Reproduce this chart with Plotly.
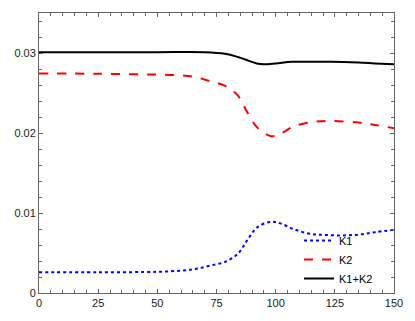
import plotly.graph_objects as go

x_k1 = [0, 25, 50, 60, 66, 72, 78.6, 84, 88, 92.2, 98, 102, 107.5, 114.5, 121, 128, 135, 142, 150]
k1 = [0.0026, 0.0026, 0.00265, 0.0028, 0.0030, 0.0034, 0.0039, 0.0049, 0.0066, 0.0082, 0.0089, 0.0087, 0.0080, 0.0074, 0.00725, 0.0072, 0.0073, 0.0076, 0.0079]

x_k2 = [0, 25, 50, 60, 66, 72, 78.6, 84, 88, 92.2, 98, 102, 107.5, 116, 124, 135, 142, 150]
k2 = [0.02745, 0.0274, 0.0273, 0.0272, 0.0270, 0.0265, 0.0259, 0.0247, 0.0226, 0.0207, 0.0196, 0.0199, 0.0208, 0.0214, 0.0215, 0.0213, 0.0210, 0.0206]

x_sum = [0, 25, 50, 70, 78.6, 84, 88, 92, 95, 100, 107, 115, 124, 135, 142, 150]
k_sum = [0.0301, 0.0301, 0.0301, 0.0301, 0.0299, 0.0295, 0.0291, 0.0287, 0.0286, 0.0287, 0.0289, 0.0289, 0.0289, 0.0288, 0.0287, 0.0286]

x_ticks = [0, 25, 50, 75, 100, 125, 150]
y_ticks = [0, 0.01, 0.02, 0.03]
y_labels = ['0', '0.01', '0.02', '0.03']

fig = go.Figure()

fig.add_trace(go.Scatter(x=x_k1, y=k1, mode='lines', name='K1',
                         line=dict(color='blue', width=2, dash='dot', shape='spline')))
fig.add_trace(go.Scatter(x=x_k2, y=k2, mode='lines', name='K2',
                         line=dict(color='red', width=2, dash='dash', shape='spline')))
fig.add_trace(go.Scatter(x=x_sum, y=k_sum, mode='lines', name='K1+K2',
                         line=dict(color='black', width=2, shape='spline')))

axis_style = dict(
    showline=True,
    linecolor='#666666',
    linewidth=1,
    mirror='ticks',
    ticks='inside',
    ticklen=4,
    tickcolor='#666666',
    showgrid=False,
    zeroline=False,
    tickfont=dict(family='Liberation Sans, Arial, sans-serif', size=11, color='#222222'),
)

fig.update_layout(
    width=415,
    height=321,
    margin=dict(l=39, r=12, t=13, b=24),
    plot_bgcolor='white',
    paper_bgcolor='white',
    xaxis=dict(range=[0, 150], tickvals=x_ticks,
               minor=dict(ticks='inside', dtick=5, ticklen=3, tickcolor='#666666'),
               **axis_style),
    yaxis=dict(range=[0, 0.035], tickvals=y_ticks, ticktext=y_labels,
               minor=dict(ticks='inside', dtick=0.002, ticklen=3, tickcolor='#666666'),
               **axis_style),
    legend=dict(
        x=0.955, y=0.0, xanchor='right', yanchor='bottom',
        bgcolor='rgba(0,0,0,0)',
        font=dict(family='Liberation Sans, Arial, sans-serif', size=11, color='black'),
        tracegroupgap=0,
    ),
)

# drop the default body margin so the figure fills the window exactly
fig.write_html("out.html", config={'displayModeBar': False},
               post_script="document.body.style.margin='0';document.body.style.overflow='hidden';")
